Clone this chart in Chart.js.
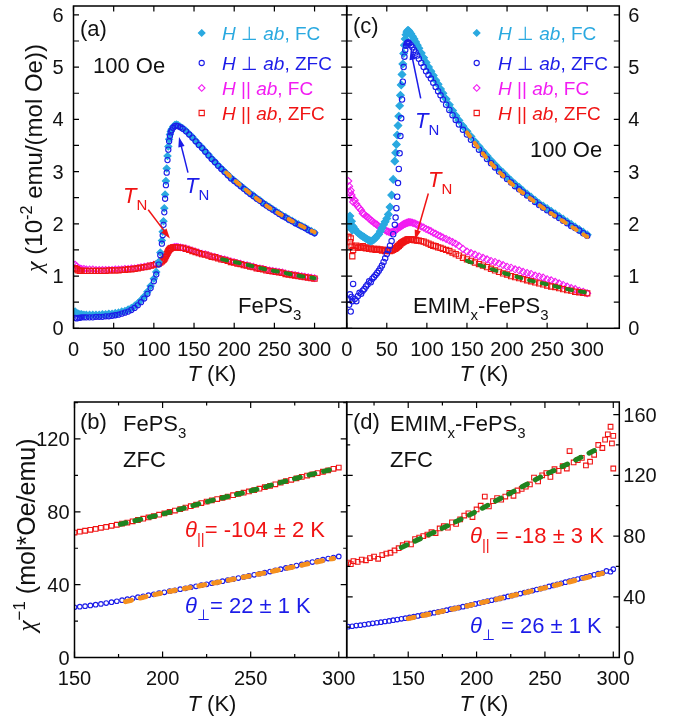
<!DOCTYPE html>
<html>
<head>
<meta charset="utf-8">
<title>FePS3 susceptibility</title>
<script src="https://cdn.jsdelivr.net/npm/chart.js@4.4.0/dist/chart.umd.min.js"></script>
<style>
  body { margin: 0; background: #fff; }
  #wrap { position: relative; width: 685px; height: 722px; }
  #wrap canvas { position: absolute; left: 0; top: 0; }
</style>
</head>
<body>
<div id="wrap">
  <canvas id="pa" width="685" height="722"></canvas>
  <canvas id="pc" width="685" height="722"></canvas>
  <canvas id="pb" width="685" height="722"></canvas>
  <canvas id="pd" width="685" height="722"></canvas>
</div>
<script>
// ---- (a) FePS3, chi in 1e-2 emu/(mol Oe) ----
const aT = [2,4,6,8,10,13,16,20,24,28,32,36,40,44,48,52,56,60,64,68,72,76,80,84,88,92,96,100,103,106,108,110,111,112,113,114,115,116,117,118,119,120,121,122,124,126,128,130,133,136,140,144,148,152,156,160,164,168,172,176,180,184,188,192,196,200,204,208,212,216,220,224,228,232,236,240,244,248,252,256,260,264,268,272,276,280,284,288,292,296,300];
const aPerpZFC = [0.20,0.19,0.20,0.20,0.21,0.21,0.21,0.21,0.21,0.22,0.22,0.22,0.23,0.23,0.24,0.25,0.26,0.28,0.30,0.32,0.35,0.39,0.44,0.50,0.57,0.66,0.77,0.90,1.03,1.22,1.40,1.62,1.78,1.98,2.22,2.48,2.74,2.98,3.22,3.42,3.58,3.68,3.75,3.79,3.84,3.87,3.88,3.87,3.85,3.82,3.77,3.71,3.65,3.58,3.51,3.45,3.38,3.31,3.24,3.18,3.11,3.05,2.99,2.93,2.87,2.82,2.77,2.72,2.67,2.62,2.57,2.53,2.48,2.44,2.39,2.35,2.31,2.27,2.23,2.19,2.15,2.12,2.08,2.05,2.01,1.98,1.95,1.92,1.88,1.85,1.82];
const aPerpFC = [0.32,0.29,0.28,0.27,0.27,0.26,0.26,0.26,0.26,0.26,0.26,0.27,0.27,0.28,0.28,0.29,0.30,0.32,0.33,0.36,0.39,0.43,0.48,0.54,0.61,0.70,0.81,0.95,1.08,1.27,1.45,1.68,1.85,2.05,2.30,2.56,2.82,3.06,3.30,3.48,3.62,3.71,3.77,3.81,3.86,3.89,3.90,3.89,3.86,3.83,3.78,3.72,3.66,3.59,3.52,3.46,3.39,3.32,3.25,3.19,3.12,3.06,3.00,2.94,2.88,2.83,2.78,2.73,2.68,2.63,2.58,2.54,2.49,2.45,2.40,2.36,2.32,2.28,2.24,2.20,2.16,2.13,2.09,2.06,2.02,1.99,1.96,1.93,1.89,1.86,1.83];
const aParFC = [1.22,1.19,1.16,1.15,1.14,1.14,1.13,1.13,1.13,1.12,1.12,1.12,1.12,1.12,1.12,1.13,1.13,1.13,1.14,1.14,1.15,1.15,1.16,1.17,1.18,1.19,1.20,1.22,1.23,1.25,1.26,1.28,1.29,1.30,1.32,1.34,1.37,1.40,1.43,1.46,1.49,1.51,1.53,1.54,1.55,1.56,1.56,1.56,1.55,1.54,1.53,1.51,1.49,1.47,1.45,1.43,1.42,1.40,1.38,1.37,1.35,1.33,1.32,1.30,1.28,1.27,1.25,1.24,1.22,1.21,1.19,1.18,1.16,1.15,1.14,1.12,1.11,1.10,1.09,1.08,1.07,1.05,1.04,1.03,1.02,1.01,1.00,0.99,0.98,0.97,0.96];
const aParZFC = [1.15,1.13,1.11,1.10,1.10,1.10,1.10,1.10,1.10,1.10,1.10,1.10,1.10,1.11,1.11,1.11,1.11,1.12,1.12,1.13,1.13,1.14,1.15,1.16,1.17,1.18,1.20,1.21,1.23,1.24,1.26,1.28,1.30,1.31,1.33,1.36,1.39,1.42,1.45,1.48,1.50,1.52,1.53,1.54,1.55,1.55,1.55,1.55,1.54,1.54,1.52,1.50,1.48,1.46,1.44,1.42,1.41,1.39,1.37,1.36,1.34,1.32,1.31,1.29,1.27,1.26,1.24,1.23,1.21,1.20,1.18,1.17,1.15,1.14,1.13,1.11,1.10,1.09,1.08,1.07,1.06,1.04,1.03,1.02,1.01,1.00,0.99,0.98,0.97,0.96,0.95];
const aFitPerpT = [190,200,210,220,230,240,250,260,270,280,290,300];
const aFitPerp = [2.98,2.84,2.71,2.58,2.46,2.35,2.25,2.16,2.07,1.99,1.91,1.84];
const aFitParT = [185,200,215,230,245,260,275,290,300];
const aFitPar = [1.32,1.27,1.22,1.16,1.11,1.07,1.02,0.98,0.96];

// ---- (c) EMIMx-FePS3 ----
const cT = [2,3,4,5,6,7,8,10,12,14,16,18,20,22,24,26,28,30,32,34,36,38,40,42,44,46,48,50,52,54,56,58,60,61,62,63,64,65,66,67,68,69,70,71,72,73,74,75,76,77,78,80,82,84,86,88,90,93,96,99,102,105,108,111,114,117,120,124,128,132,136,140,145,150,155,160,165,170,175,180,185,190,195,200,205,210,215,220,225,230,235,240,245,250,255,260,265,270,275,280,285,290,295,300];
const cPerpZFC = [0.55,0.45,0.65,0.32,0.60,0.52,0.85,0.56,0.52,0.62,0.68,0.66,0.72,0.75,0.80,0.84,0.90,0.88,0.95,0.98,1.02,1.06,1.10,1.15,1.20,1.27,1.34,1.42,1.50,1.58,1.67,1.80,1.98,2.12,2.30,2.52,2.78,3.05,3.35,3.68,4.02,4.38,4.72,5.00,5.20,5.33,5.41,5.45,5.47,5.47,5.45,5.42,5.38,5.33,5.28,5.22,5.16,5.08,5.00,4.92,4.85,4.78,4.70,4.62,4.54,4.46,4.38,4.28,4.18,4.08,3.99,3.90,3.80,3.71,3.61,3.51,3.42,3.33,3.24,3.16,3.08,3.00,2.93,2.86,2.79,2.72,2.66,2.60,2.54,2.48,2.42,2.36,2.31,2.26,2.21,2.16,2.11,2.06,2.01,1.96,1.92,1.87,1.82,1.77];
const cPerpFC = [2.10,2.00,2.15,1.92,2.05,1.88,1.95,1.90,1.86,1.83,1.80,1.78,1.76,1.74,1.72,1.70,1.68,1.67,1.68,1.70,1.73,1.77,1.80,1.86,1.92,1.98,2.04,2.10,2.18,2.32,2.55,2.85,3.20,3.36,3.52,3.70,3.88,4.06,4.26,4.46,4.66,4.86,5.06,5.26,5.42,5.54,5.62,5.67,5.70,5.70,5.68,5.64,5.59,5.54,5.48,5.42,5.36,5.27,5.18,5.09,5.00,4.92,4.84,4.75,4.67,4.58,4.50,4.39,4.28,4.17,4.07,3.98,3.87,3.77,3.67,3.57,3.48,3.39,3.30,3.21,3.13,3.05,2.98,2.90,2.83,2.76,2.70,2.63,2.57,2.51,2.45,2.39,2.34,2.29,2.24,2.19,2.14,2.09,2.04,1.99,1.94,1.89,1.84,1.79];
const cParFC = [2.82,2.72,2.60,2.64,2.55,2.50,2.42,2.45,2.38,2.33,2.30,2.26,2.20,2.18,2.15,2.13,2.10,2.07,2.05,2.02,2.00,1.98,1.95,1.93,1.92,1.90,1.88,1.86,1.85,1.84,1.84,1.85,1.87,1.88,1.89,1.90,1.92,1.93,1.94,1.95,1.96,1.97,1.98,1.99,2.00,2.00,2.01,2.02,2.02,2.03,2.03,2.03,2.02,2.01,2.00,1.98,1.97,1.95,1.93,1.90,1.88,1.86,1.83,1.81,1.78,1.76,1.74,1.71,1.68,1.65,1.62,1.58,1.52,1.47,1.44,1.41,1.38,1.35,1.32,1.29,1.27,1.24,1.21,1.18,1.16,1.13,1.11,1.08,1.06,1.04,1.01,0.99,0.97,0.94,0.92,0.89,0.86,0.83,0.80,0.77,0.75,0.72,0.70,0.67];
const cParZFC = [1.75,1.85,1.65,1.72,1.58,1.38,1.50,1.55,1.58,1.54,1.56,1.55,1.57,1.54,1.53,1.55,1.52,1.53,1.51,1.52,1.50,1.52,1.50,1.51,1.49,1.50,1.48,1.50,1.49,1.48,1.49,1.50,1.52,1.53,1.54,1.56,1.57,1.58,1.60,1.61,1.63,1.64,1.65,1.66,1.67,1.68,1.68,1.69,1.70,1.70,1.70,1.70,1.70,1.69,1.69,1.68,1.68,1.67,1.66,1.64,1.62,1.60,1.58,1.57,1.55,1.54,1.52,1.50,1.48,1.45,1.42,1.39,1.35,1.32,1.29,1.26,1.23,1.20,1.17,1.14,1.11,1.08,1.05,1.03,1.00,0.98,0.96,0.94,0.92,0.90,0.88,0.86,0.84,0.82,0.80,0.79,0.77,0.75,0.73,0.72,0.70,0.69,0.68,0.67];
const cFitPerpT = [150,165,180,195,210,225,240,255,270,285,300];
const cFitPerp = [3.75,3.44,3.16,2.92,2.71,2.53,2.36,2.20,2.05,1.90,1.75];
const cFitParT = [150,175,200,225,250,275,300];
const cFitPar = [1.29,1.16,1.04,0.93,0.84,0.75,0.68];

// ---- (b) FePS3, inverse chi, ZFC ----
const bT = [150,153,156,159,162,165,168,171,174,177,180,183,186,189,192,195,198,201,204,207,210,213,216,219,222,225,228,231,234,237,240,243,246,249,252,255,258,261,264,267,270,273,276,279,282,285,288,291,294,297,300];
const bPar = [68.6,69.1,69.6,70.1,70.6,71.2,71.7,72.3,72.9,73.5,74.1,74.8,75.5,76.2,76.9,77.6,78.4,79.1,79.9,80.7,81.5,82.3,83.1,83.9,84.8,85.6,86.3,87.0,87.7,88.4,89.1,89.8,90.5,91.2,91.9,92.7,93.5,94.3,95.1,96.0,96.8,97.6,98.4,99.2,99.9,100.6,101.3,102.0,102.8,103.6,104.3];
const bPerp = [27.6,27.9,28.2,28.6,29.0,29.4,29.9,30.4,30.9,31.5,32.0,32.5,33.1,33.6,34.2,34.7,35.3,35.8,36.4,36.9,37.5,38.0,38.6,39.1,39.7,40.2,40.8,41.3,41.9,42.5,43.0,43.6,44.2,44.8,45.4,46.0,46.6,47.2,47.9,48.5,49.2,49.8,50.5,51.1,51.8,52.4,53.1,53.7,54.3,54.9,55.5];
const bFitParT = [176,200,225,250,275,296];
const bFitPar = [73.2,78.8,85.5,91.5,98.2,103.3];
const bFitPerpT = [179,200,225,250,275,297];
const bFitPerp = [30.7,35.5,40.1,44.9,49.9,54.4];

// ---- (d) EMIMx-FePS3, inverse chi, ZFC ----
const dPerpT = [106,109,112,115,118,121,124,127,130,133,136,139,142,145,148,151,154,157,160,163,166,169,172,175,178,181,184,187,190,193,196,199,202,205,208,211,214,217,220,223,226,229,232,235,238,241,244,247,250,253,256,259,262,265,268,271,274,277,280,283,286,289,292,295,298,300];
const dPerp = [20.3,20.6,21.0,21.3,21.7,22.1,22.5,22.9,23.3,23.7,24.1,24.6,25.0,25.5,25.9,26.4,26.9,27.4,27.9,28.4,29.0,29.5,30.1,30.6,31.2,31.8,32.3,32.9,33.5,34.1,34.7,35.3,35.9,36.5,37.1,37.7,38.3,38.9,39.6,40.2,40.8,41.5,42.1,42.8,43.4,44.1,44.8,45.4,46.1,46.8,47.5,48.2,48.9,49.6,50.3,51.0,51.7,52.4,53.1,53.8,54.5,55.2,55.6,57.0,56.5,58.2];
const dParT = [106,108,110,113,116,119,122,125,128,131,134,137,140,143,146,149,152,155,158,161,164,167,170,173,176,179,182,185,188,191,194,197,200,203,206,209,212,215,218,221,224,227,230,233,236,239,242,245,248,251,254,257,260,263,266,268,271,274,277,280,283,286,289,292,294,296,298,299,300,300];
const dPar = [62.5,61.5,63.5,63.0,64.5,64.0,65.5,66.5,65.0,67.5,68.5,69.0,70.5,72.0,74.0,75.0,74.5,78.0,79.0,80.0,81.0,82.5,82.0,85.0,86.5,85.5,89.0,88.0,91.0,93.5,95.0,92.5,97.5,100.0,106.0,99.5,103.0,105.0,104.0,106.0,108.5,106.5,110.0,111.0,112.5,114.0,118.5,116.0,120.0,121.5,119.0,124.0,123.0,126.0,124.5,136.0,128.5,130.0,131.5,126.5,129.0,133.5,140.0,138.0,143.5,147.0,152.0,141.0,146.0,124.5];
const dFitParT = [145,170,195,220,245,270,292];
const dFitPar = [72.5,83.0,94.0,106.0,118.0,129.0,139.0];
const dFitPerpT = [150,175,200,225,250,275,292];
const dFitPerp = [25.6,30.4,35.4,40.5,45.9,51.4,55.4];

// ---- tick positions (labels drawn on every labelStep) ----
const chiTicksX = [0,50,100,150,200,250,300];
const chiTicksY = [0,0.5,1,1.5,2,2.5,3,3.5,4,4.5,5,5.5,6];
const bTicksX = [150,175,200,225,250,275,300];
const bTicksY = [0,20,40,60,80,100,120,140];
const dTicksX = [125,150,175,200,225,250,275,300];
const dTicksY = [0,20,40,60,80,100,120,140,160];

const FONT = '"Liberation Sans", Arial, Helvetica, sans-serif';
const SERIF = '"Liberation Serif", "Times New Roman", serif';
const INK = '#111';
const CYAN = '#2aa9e0', BLUE = '#1c1ce8', MAGENTA = '#f21cf2', RED = '#f01414';
const ORANGE = '#f5901e', GREEN = '#1f841f';
const W = 685, H = 722;

function pts(xs, ys) { return xs.map((x, i) => ({ x: x, y: ys[i] })); }

function scatterSet(xs, ys, color, style, r, filled) {
  return {
    data: pts(xs, ys), showLine: false,
    pointStyle: style, pointRadius: r, pointBorderWidth: 1.1,
    pointBorderColor: color,
    pointBackgroundColor: filled ? color : 'rgba(0,0,0,0)'
  };
}

function fitSet(xs, ys, color, w, dash) {
  return {
    data: pts(xs, ys), showLine: true, pointRadius: 0,
    borderColor: color, borderWidth: w, borderDash: dash, borderCapStyle: 'round',
    cubicInterpolationMode: 'monotone', fill: false
  };
}

function isMajor(v, step) { return Math.abs(v / step - Math.round(v / step)) < 1e-6; }

// text made of pieces: [text, flags] with i = italic, s = serif, b = subscript, p = superscript
function rich(ctx, x, y, parts, size, color, align) {
  const segs = parts.map(p => {
    const t = Array.isArray(p) ? p[0] : p;
    const f = Array.isArray(p) ? p[1] : '';
    const small = f.includes('b') || f.includes('p');
    const fs = small ? size * 0.68 : size;
    const font = (f.includes('i') ? 'italic ' : '') + fs + 'px ' + (f.includes('s') ? SERIF : FONT);
    ctx.font = font;
    const dy = f.includes('b') ? size * 0.33 : f.includes('p') ? -size * 0.42 : 0;
    return { t, font, dy, w: ctx.measureText(t).width };
  });
  const total = segs.reduce((s, g) => s + g.w, 0);
  let cx = align === 'center' ? x - total / 2 : align === 'right' ? x - total : x;
  ctx.fillStyle = color;
  ctx.textAlign = 'left';
  ctx.textBaseline = 'alphabetic';
  segs.forEach(g => { ctx.font = g.font; ctx.fillText(g.t, cx, y + g.dy); cx += g.w; });
}

function mark(ctx, style, x, y, r, color, filled) {
  ctx.beginPath();
  if (style === 'circle') ctx.arc(x, y, r, 0, Math.PI * 2);
  else if (style === 'rect') { const s = r * Math.SQRT1_2; ctx.rect(x - s, y - s, 2 * s, 2 * s); }
  else { ctx.moveTo(x, y - r); ctx.lineTo(x + r, y); ctx.lineTo(x, y + r); ctx.lineTo(x - r, y); ctx.closePath(); }
  ctx.lineWidth = 1.1;
  ctx.strokeStyle = color;
  if (filled) { ctx.fillStyle = color; ctx.fill(); }
  ctx.stroke();
}

function arrow(ctx, x1, y1, x2, y2, color) {
  const a = Math.atan2(y2 - y1, x2 - x1), L = 10, hw = 3.2;
  ctx.strokeStyle = color; ctx.fillStyle = color; ctx.lineWidth = 1.5;
  ctx.beginPath();
  ctx.moveTo(x1, y1);
  ctx.lineTo(x2 - Math.cos(a) * L * 0.7, y2 - Math.sin(a) * L * 0.7);
  ctx.stroke();
  ctx.beginPath();
  ctx.moveTo(x2, y2);
  ctx.lineTo(x2 - L * Math.cos(a) + hw * Math.sin(a), y2 - L * Math.sin(a) - hw * Math.cos(a));
  ctx.lineTo(x2 - L * Math.cos(a) - hw * Math.sin(a), y2 - L * Math.sin(a) + hw * Math.cos(a));
  ctx.closePath();
  ctx.fill();
}

const legendRows = [
  [CYAN, 'rectRot', true, '\u22A5', 'FC', 3.3],
  [BLUE, 'circle', false, '\u22A5', 'ZFC', 2.6],
  [MAGENTA, 'rectRot', false, '||', 'FC', 3.3],
  [RED, 'rect', false, '||', 'ZFC', 3.7]
];
function legend(ctx, mx, tx, ys) {
  legendRows.forEach((row, i) => {
    mark(ctx, row[1], mx, ys[i], row[5], row[0], row[2]);
    rich(ctx, tx, ys[i] + 7, [['H', 'i'], ' ' + row[3] + ' ', ['ab', 'i'], ', ' + row[4]], 19, row[0]);
  });
}

function panel(id, p) {
  const a = p.area;
  const left = p.ySide === 'left';
  const decor = {
    id: 'decor',
    afterDraw(chart) {
      const ctx = chart.ctx, ca = chart.chartArea, sx = chart.scales.x, sy = chart.scales.y;
      const X = v => sx.getPixelForValue(v), Y = v => sy.getPixelForValue(v);
      ctx.save();
      // inward ticks on all four sides
      ctx.strokeStyle = '#000';
      ctx.lineWidth = 1.2;
      ctx.beginPath();
      p.xTicks.forEach(v => {
        const len = isMajor(v, p.xLabel) ? p.major : p.minor;
        ctx.moveTo(X(v), ca.bottom); ctx.lineTo(X(v), ca.bottom - len);
        ctx.moveTo(X(v), ca.top); ctx.lineTo(X(v), ca.top + len);
      });
      p.yTicks.forEach(v => {
        const len = isMajor(v, p.yLabel) ? p.major : p.minor;
        ctx.moveTo(ca.left, Y(v)); ctx.lineTo(ca.left + len, Y(v));
        ctx.moveTo(ca.right, Y(v)); ctx.lineTo(ca.right - len, Y(v));
      });
      ctx.stroke();
      ctx.lineWidth = 1.5;
      ctx.strokeRect(ca.left, ca.top, ca.right - ca.left, ca.bottom - ca.top);
      // tick labels
      ctx.fillStyle = INK;
      ctx.font = '20px ' + FONT;
      ctx.textBaseline = 'alphabetic';
      ctx.textAlign = 'center';
      p.xTicks.forEach(v => {
        if (isMajor(v, p.xLabel)) ctx.fillText(String(v), X(v), ca.bottom + p.xLabelDy);
      });
      ctx.textAlign = left ? 'right' : 'left';
      const lx = left ? ca.left - p.yPad : ca.right + p.yPad;
      p.yTicks.forEach(v => {
        if (isMajor(v, p.yLabel)) ctx.fillText(String(v), lx, Y(v) + 7);
      });
      p.draw(ctx, X, Y);
      ctx.restore();
    }
  };
  return new Chart(document.getElementById(id), {
    type: 'scatter',
    data: { datasets: p.datasets },
    plugins: [decor],
    options: {
      responsive: false, animation: false, events: [],
      layout: { padding: { left: left ? 0 : a.l, right: left ? W - a.r : 0, top: a.t, bottom: 0 } },
      plugins: { legend: { display: false }, tooltip: { enabled: false } },
      scales: {
        x: {
          type: 'linear', min: p.x[0], max: p.x[1],
          grid: { display: false, drawTicks: false }, border: { display: false },
          ticks: { display: false },
          afterFit: s => { s.height = H - a.b; }
        },
        y: {
          type: 'linear', position: p.ySide, min: p.y[0], max: p.y[1],
          grid: { display: false, drawTicks: false }, border: { display: false },
          ticks: { display: false },
          afterFit: s => { s.width = left ? a.l : W - a.r; }
        }
      }
    }
  });
}

const TN = [['T', 'i'], ['N', 'b']];

panel('pa', {
  area: { l: 73.5, r: 346.7, t: 6, b: 328.3 },
  x: [0, 340], xTicks: chiTicksX, xLabel: 50, y: [0, 6.17], yTicks: chiTicksY, yLabel: 1,
  ySide: 'left', yPad: 10, xLabelDy: 28, major: 5.5, minor: 5.5,
  datasets: [
    fitSet(aFitPerpT, aFitPerp, ORANGE, 4, [5, 8]),
    fitSet(aFitParT, aFitPar, GREEN, 4, [5, 8]),
    scatterSet(aT, aPerpZFC, BLUE, 'circle', 2.6, false),
    scatterSet(aT, aPerpFC, CYAN, 'rectRot', 3.5, true),
    scatterSet(aT, aParZFC, RED, 'rect', 3.7, false),
    scatterSet(aT, aParFC, MAGENTA, 'rectRot', 3.3, false)
  ],
  draw(ctx, X, Y) {
    rich(ctx, 80, 36, ['(a)'], 22, INK);
    rich(ctx, 93, 73, ['100 Oe'], 22, INK);
    legend(ctx, 201.7, 222, [33, 63, 88, 113]);
    arrow(ctx, X(142.5), Y(2.98), X(131.3), Y(3.66), BLUE);
    rich(ctx, 185, 193, TN, 22, BLUE);
    arrow(ctx, X(93), Y(2.27), X(120), Y(1.72), RED);
    rich(ctx, 123, 203, TN, 22, RED);
    rich(ctx, 238, 313, ['FePS', ['3', 'b']], 22, INK);
    ctx.save();
    ctx.translate(42, 158);
    ctx.rotate(-Math.PI / 2);
    rich(ctx, 0, 0, [['\u03C7', 'is'], ' (10', ['-2', 'p'], ' emu/(mol Oe))'], 24, INK, 'center');
    ctx.restore();
    rich(ctx, 212, 381, [['T', 'i'], ' (K)'], 22, INK, 'center');
  }
});

panel('pc', {
  area: { l: 346.7, r: 619.3, t: 6, b: 328.3 },
  x: [0, 340], xTicks: chiTicksX, xLabel: 50, y: [0, 6.17], yTicks: chiTicksY, yLabel: 1,
  ySide: 'right', yPad: 9, xLabelDy: 28, major: 5.5, minor: 5.5,
  datasets: [
    fitSet(cFitPerpT, cFitPerp, ORANGE, 4, [5, 8]),
    fitSet(cFitParT, cFitPar, GREEN, 4, [5, 8]),
    scatterSet(cT, cPerpZFC, BLUE, 'circle', 2.7, false),
    scatterSet(cT, cPerpFC, CYAN, 'rectRot', 3.8, true),
    scatterSet(cT, cParZFC, RED, 'rect', 3.7, false),
    scatterSet(cT, cParFC, MAGENTA, 'rectRot', 3.5, false)
  ],
  draw(ctx, X, Y) {
    rich(ctx, 353, 33, ['(c)'], 22, INK);
    legend(ctx, 476.7, 498, [33, 63, 88, 113]);
    arrow(ctx, X(92.3), Y(4.4), X(79.8), Y(5.33), BLUE);
    rich(ctx, 415, 128, TN, 22, BLUE);
    arrow(ctx, X(101.8), Y(2.58), X(85.2), Y(1.69), RED);
    rich(ctx, 428, 187, TN, 22, RED);
    rich(ctx, 530, 157, ['100 Oe'], 22, INK);
    rich(ctx, 413, 313, ['EMIM', ['x', 'b'], '-FePS', ['3', 'b']], 22, INK);
    rich(ctx, 484, 381, [['T', 'i'], ' (K)'], 22, INK, 'center');
  }
});

panel('pb', {
  area: { l: 74.5, r: 346.7, t: 402, b: 657.5 },
  x: [150, 304.5], xTicks: bTicksX, xLabel: 50, y: [0, 140.3], yTicks: bTicksY, yLabel: 40,
  ySide: 'left', yPad: 5, xLabelDy: 27.5, major: 6, minor: 3.5,
  datasets: [
    fitSet(bFitParT, bFitPar, GREEN, 5, [6, 9]),
    fitSet(bFitPerpT, bFitPerp, ORANGE, 5, [6, 9]),
    scatterSet(bT, bPar, RED, 'rect', 3.3, false),
    scatterSet(bT, bPerp, BLUE, 'circle', 2.3, false)
  ],
  draw(ctx, X, Y) {
    rich(ctx, 80, 429, ['(b)'], 22, INK);
    rich(ctx, 123, 431, ['FePS', ['3', 'b']], 22, INK);
    rich(ctx, 123, 467, ['ZFC'], 22, INK);
    rich(ctx, 185, 537, [['\u03B8', 'i'], ['||', 'b'], '= -104 \u00B1 2 K'], 22, RED);
    rich(ctx, 185, 613, [['\u03B8', 'i'], ['\u22A5', 'b'], '= 22 \u00B1 1 K'], 22, BLUE);
    ctx.save();
    ctx.translate(35, 535);
    ctx.rotate(-Math.PI / 2);
    rich(ctx, 0, 0, [['\u03C7', 'is'], ['\u22121', 'p'], ' (mol*Oe/emu)'], 25, INK, 'center');
    ctx.restore();
    rich(ctx, 212, 711, [['T', 'i'], ' (K)'], 22, INK, 'center');
  }
});

panel('pd', {
  area: { l: 346.7, r: 619.3, t: 402, b: 657.5 },
  x: [105, 304.4], xTicks: dTicksX, xLabel: 50, y: [0, 168.3], yTicks: dTicksY, yLabel: 40,
  ySide: 'right', yPad: 4, xLabelDy: 27.5, major: 6, minor: 3.5,
  datasets: [
    fitSet(dFitParT, dFitPar, GREEN, 5, [6, 9]),
    fitSet(dFitPerpT, dFitPerp, ORANGE, 5, [6, 9]),
    scatterSet(dParT, dPar, RED, 'rect', 3.3, false),
    scatterSet(dPerpT, dPerp, BLUE, 'circle', 2.3, false)
  ],
  draw(ctx, X, Y) {
    rich(ctx, 353, 429, ['(d)'], 22, INK);
    rich(ctx, 390, 431, ['EMIM', ['x', 'b'], '-FePS', ['3', 'b']], 22, INK);
    rich(ctx, 390, 467, ['ZFC'], 22, INK);
    rich(ctx, 470, 543, [['\u03B8', 'i'], ['||', 'b'], ' = -18 \u00B1 3 K'], 22, RED);
    rich(ctx, 470, 633, [['\u03B8', 'i'], ['\u22A5', 'b'], ' = 26 \u00B1 1 K'], 22, BLUE);
    rich(ctx, 484, 711, [['T', 'i'], ' (K)'], 22, INK, 'center');
  }
});
</script>
</body>
</html>
